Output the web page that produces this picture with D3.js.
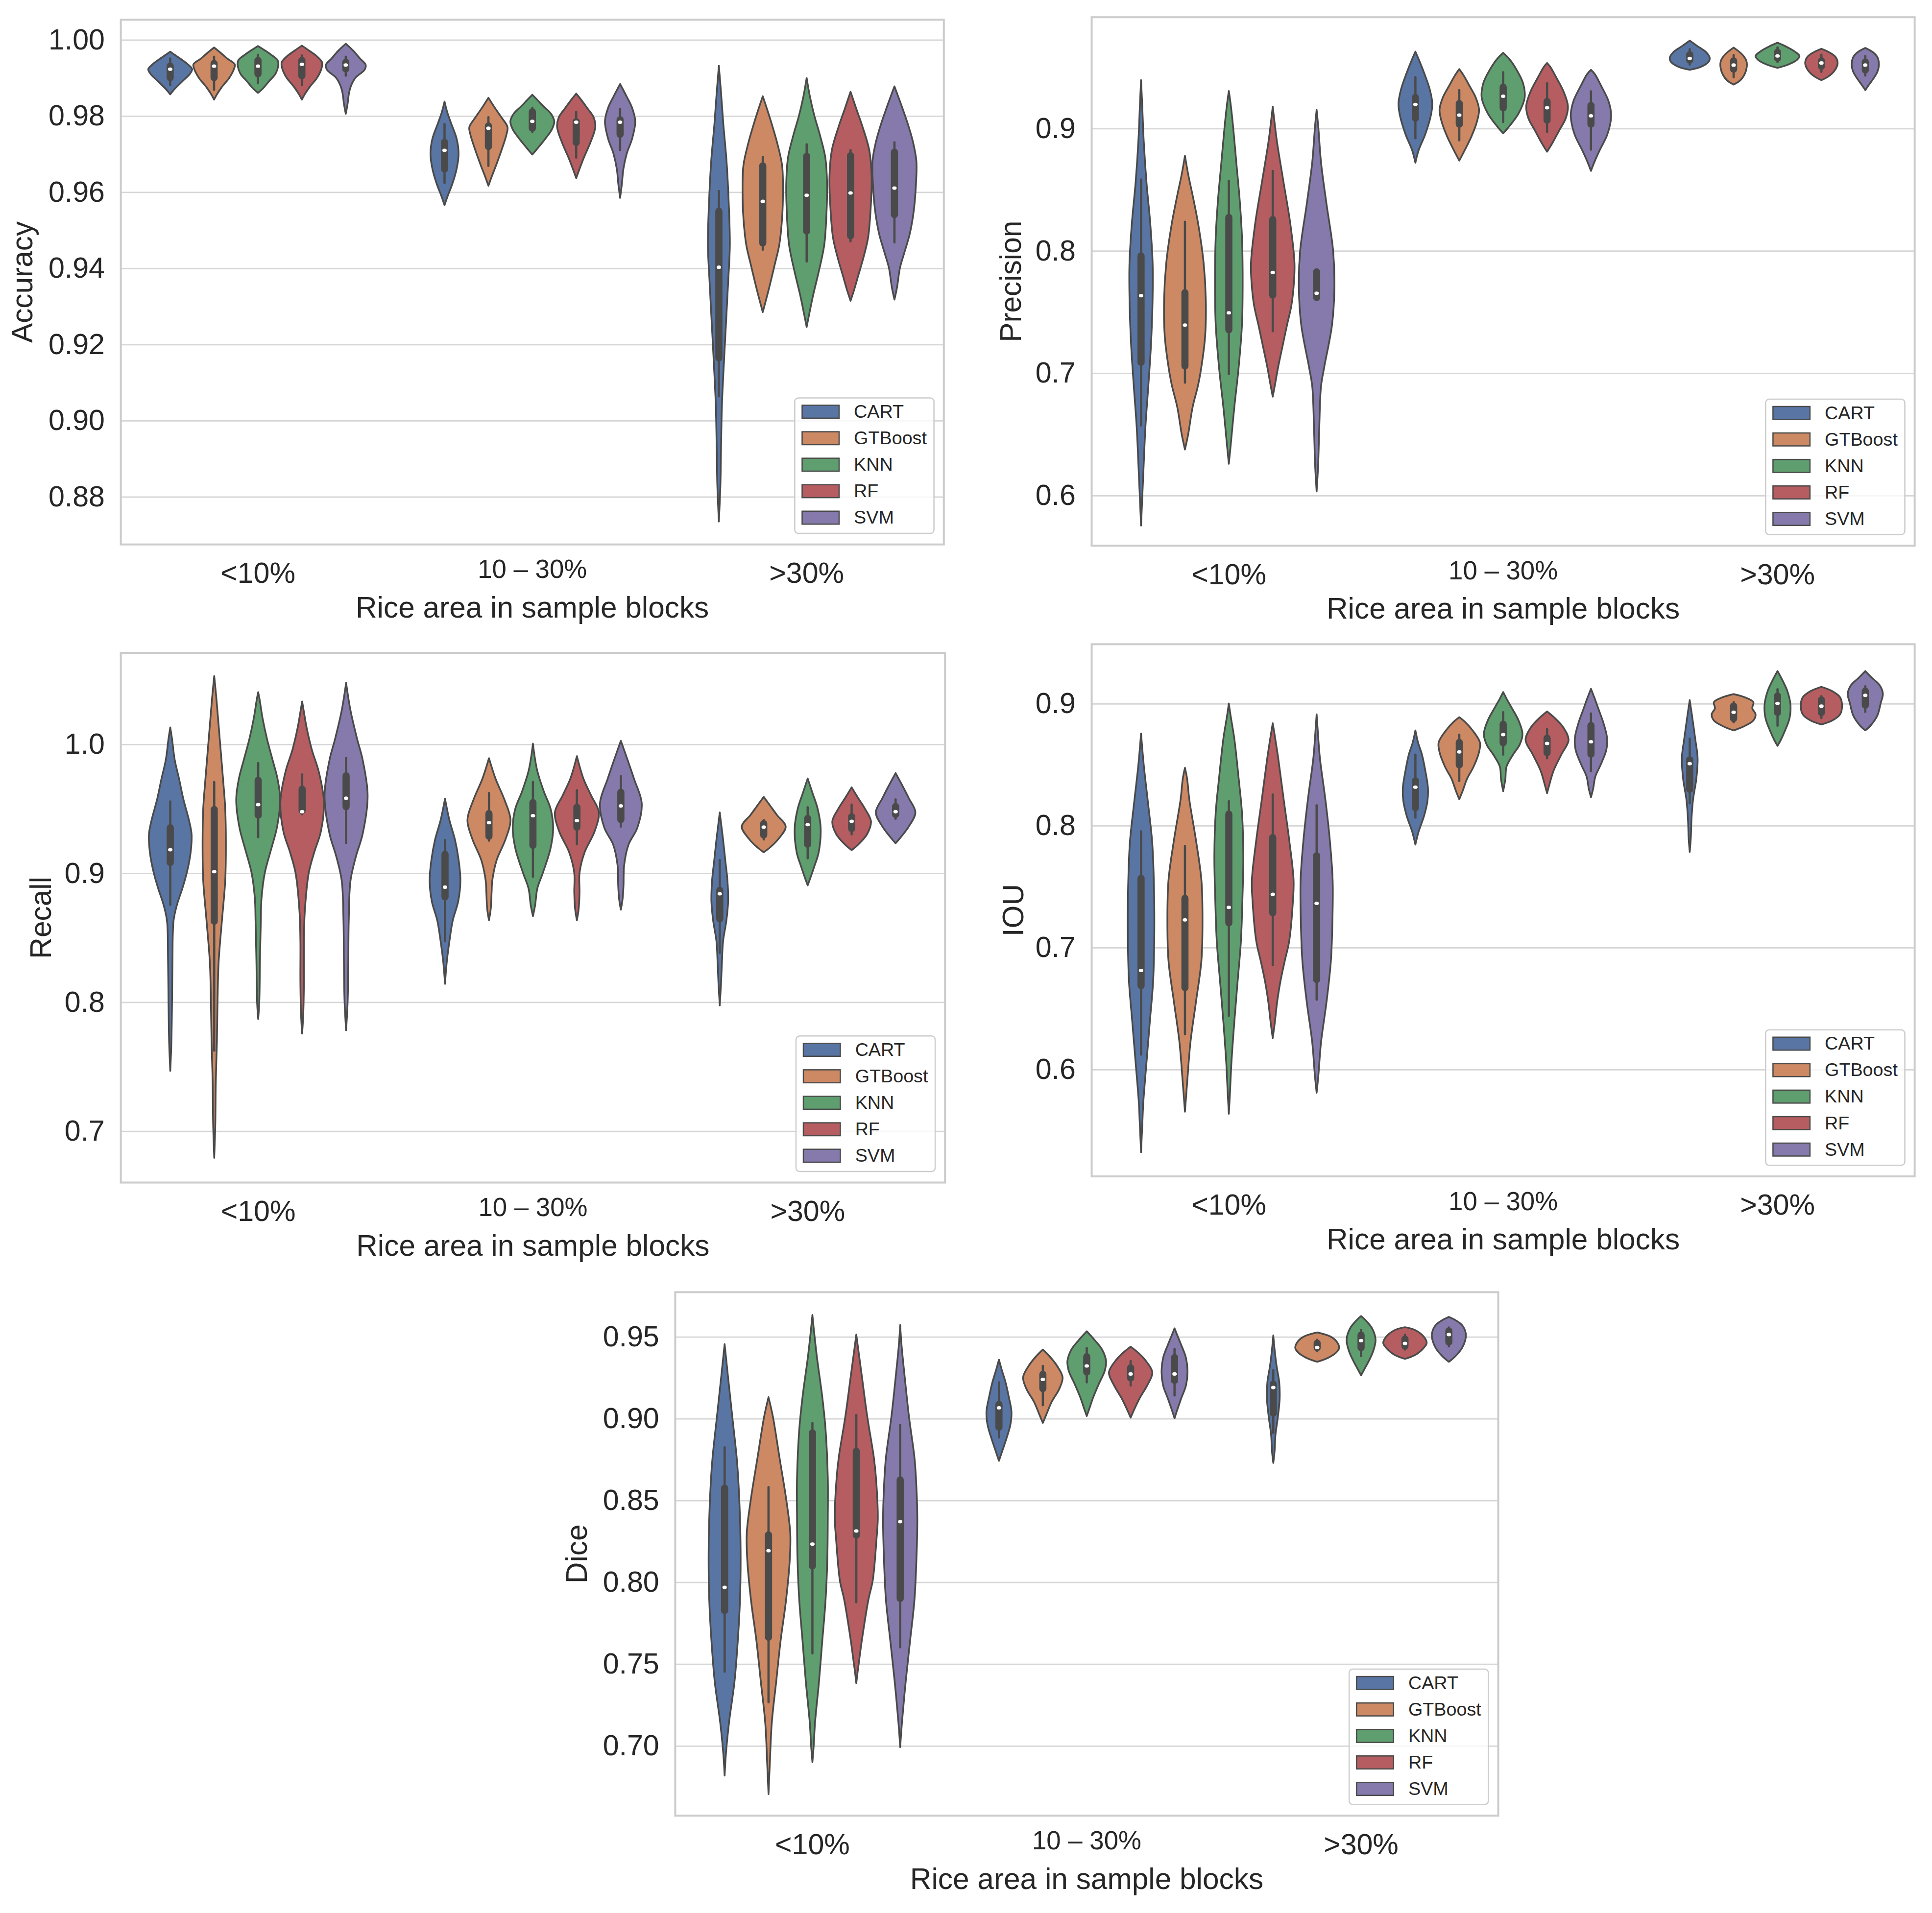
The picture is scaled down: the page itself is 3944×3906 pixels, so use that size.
<!DOCTYPE html>
<meta charset="utf-8">
<head>
  <script src="https://d3js.org/d3.v7.min.js"></script>
  <style>
    body { margin: 0; background: #fff; }
    text { font-family: "Liberation Sans", Arial, sans-serif; fill: #262626; }
  </style>
</head>
<body>
<svg id="root"></svg>
<script>
// ---- data ----
const methods = ["CART", "GTBoost", "KNN", "RF", "SVM"];
const groups = ["<10%", "10 – 30%", ">30%"];
const colors = ["#5875a4", "#cc8963", "#5f9e6e", "#b55d60", "#857aab"];

const accTicks = [0.88, 0.90, 0.92, 0.94, 0.96, 0.98, 1.00];
const precTicks = [0.6, 0.7, 0.8, 0.9];
const recTicks = [0.7, 0.8, 0.9, 1.0];
const iouTicks = [0.6, 0.7, 0.8, 0.9];
const diceTicks = [0.70, 0.75, 0.80, 0.85, 0.90, 0.95];

// density outline: [value, relative half width], box: [whisker low, q1, median, q3, whisker high]
const accShape = [
  [
    [[0.9856,0],[0.9870,0.2],[0.9890,0.55],[0.9910,0.9],[0.9922,1.0],[0.9935,0.8],[0.9950,0.45],[0.9960,0.2],[0.9968,0]],
    [[0.9842,0],[0.9855,0.12],[0.9875,0.35],[0.9900,0.7],[0.9925,0.92],[0.9935,0.94],[0.9950,0.6],[0.9965,0.3],[0.9979,0]],
    [[0.9860,0],[0.9870,0.2],[0.9890,0.5],[0.9910,0.8],[0.9930,0.92],[0.9945,0.9],[0.9960,0.6],[0.9972,0.3],[0.9983,0]],
    [[0.9842,0],[0.9855,0.12],[0.9875,0.35],[0.9900,0.7],[0.9925,0.9],[0.9940,0.92],[0.9955,0.7],[0.9970,0.35],[0.9984,0]],
    [[0.9805,0],[0.9830,0.08],[0.9860,0.15],[0.9880,0.25],[0.9900,0.45],[0.9920,0.85],[0.9933,0.91],[0.9950,0.65],[0.9970,0.35],[0.9989,0]]
  ],
  [
    [[0.9565,0],[0.9590,0.15],[0.9620,0.35],[0.9660,0.55],[0.9700,0.64],[0.9740,0.55],[0.9780,0.3],[0.9810,0.12],[0.9837,0]],
    [[0.9616,0],[0.9640,0.15],[0.9670,0.35],[0.9710,0.6],[0.9750,0.82],[0.9770,0.87],[0.9795,0.6],[0.9820,0.3],[0.9847,0]],
    [[0.9698,0],[0.9715,0.25],[0.9740,0.6],[0.9765,0.9],[0.9785,1.0],[0.9805,0.85],[0.9825,0.5],[0.9840,0.25],[0.9855,0]],
    [[0.9636,0],[0.9660,0.15],[0.9690,0.35],[0.9730,0.65],[0.9770,0.87],[0.9795,0.8],[0.9820,0.5],[0.9840,0.25],[0.9858,0]],
    [[0.9584,0],[0.9620,0.08],[0.9660,0.15],[0.9700,0.3],[0.9740,0.55],[0.9785,0.69],[0.9820,0.55],[0.9850,0.3],[0.9883,0]]
  ],
  [
    [[0.8734,0],[0.8830,0.07],[0.8930,0.1],[0.9040,0.14],[0.9140,0.22],[0.9250,0.32],[0.9360,0.42],[0.9460,0.5],[0.9570,0.45],[0.9680,0.35],[0.9780,0.2],[0.9860,0.1],[0.9931,0]],
    [[0.9284,0],[0.9310,0.12],[0.9350,0.3],[0.9410,0.55],[0.9460,0.75],[0.9530,0.88],[0.9600,0.92],[0.9670,0.88],[0.9730,0.65],[0.9780,0.4],[0.9820,0.18],[0.9851,0]],
    [[0.9245,0],[0.9280,0.12],[0.9330,0.3],[0.9390,0.55],[0.9460,0.8],[0.9540,0.9],[0.9620,0.93],[0.9690,0.85],[0.9750,0.6],[0.9800,0.35],[0.9850,0.15],[0.9899,0]],
    [[0.9314,0],[0.9340,0.15],[0.9380,0.35],[0.9430,0.6],[0.9480,0.8],[0.9560,0.92],[0.9640,0.96],[0.9710,0.85],[0.9770,0.55],[0.9820,0.25],[0.9863,0]],
    [[0.9317,0],[0.9350,0.12],[0.9400,0.25],[0.9440,0.45],[0.9490,0.7],[0.9550,0.88],[0.9620,0.98],[0.9680,1.0],[0.9730,0.85],[0.9780,0.6],[0.9830,0.3],[0.9877,0]]
  ]
];
const accBox = [
  [[0.9880,0.9895,0.9922,0.9935,0.9950],[0.9868,0.9895,0.9930,0.9942,0.9955],[0.9885,0.9905,0.9930,0.9950,0.9960],[0.9880,0.9900,0.9935,0.9950,0.9958],[0.9905,0.9918,0.9933,0.9945,0.9955]],
  [[0.9623,0.9655,0.9709,0.9735,0.9778],[0.9668,0.9714,0.9767,0.9778,0.9796],[0.9757,0.9762,0.9785,0.9815,0.9820],[0.9690,0.9725,0.9783,0.9789,0.9810],[0.9710,0.9746,0.9783,0.9794,0.9818]],
  [[0.9063,0.9159,0.9402,0.9554,0.9602],[0.9448,0.9461,0.9575,0.9673,0.9692],[0.9417,0.9492,0.9591,0.9698,0.9725],[0.9470,0.9480,0.9597,0.9700,0.9710],[0.9467,0.9535,0.9610,0.9709,0.9730]]
];

const precShape = [
  [
    [[0.5751,0],[0.600,0.06],[0.625,0.12],[0.656,0.2],[0.689,0.33],[0.722,0.45],[0.755,0.52],[0.788,0.53],[0.822,0.42],[0.855,0.25],[0.890,0.12],[0.920,0.05],[0.9392,0]],
    [[0.6373,0],[0.650,0.15],[0.672,0.35],[0.690,0.6],[0.705,0.75],[0.730,0.92],[0.760,0.95],[0.790,0.85],[0.822,0.6],[0.845,0.35],[0.862,0.15],[0.8774,0]],
    [[0.6256,0],[0.640,0.08],[0.672,0.25],[0.705,0.45],[0.740,0.6],[0.775,0.63],[0.810,0.6],[0.840,0.5],[0.870,0.35],[0.900,0.2],[0.920,0.08],[0.9303,0]],
    [[0.6805,0],[0.690,0.1],[0.705,0.25],[0.722,0.45],[0.739,0.65],[0.755,0.85],[0.775,0.97],[0.790,0.99],[0.822,0.8],[0.855,0.5],[0.888,0.2],[0.905,0.08],[0.9176,0]],
    [[0.603,0],[0.625,0.07],[0.655,0.12],[0.689,0.2],[0.705,0.35],[0.739,0.7],[0.770,0.81],[0.800,0.75],[0.838,0.45],[0.872,0.2],[0.900,0.08],[0.915,0]]
  ],
  [
    [[0.8717,0],[0.882,0.15],[0.895,0.45],[0.910,0.7],[0.920,0.77],[0.932,0.65],[0.945,0.4],[0.955,0.18],[0.9625,0]],
    [[0.8734,0],[0.882,0.25],[0.893,0.55],[0.905,0.8],[0.915,0.9],[0.925,0.75],[0.935,0.45],[0.943,0.2],[0.9482,0]],
    [[0.8957,0],[0.902,0.3],[0.912,0.7],[0.925,0.98],[0.937,0.9],[0.948,0.6],[0.956,0.3],[0.9615,0]],
    [[0.8807,0],[0.888,0.25],[0.898,0.55],[0.908,0.85],[0.918,0.95],[0.930,0.75],[0.942,0.4],[0.950,0.15],[0.9532,0]],
    [[0.865,0],[0.872,0.15],[0.882,0.4],[0.895,0.75],[0.910,0.92],[0.922,0.8],[0.935,0.45],[0.944,0.18],[0.9476,0]]
  ],
  [
    [[0.9476,0],[0.950,0.5],[0.954,0.85],[0.9575,0.91],[0.962,0.75],[0.967,0.35],[0.9715,0]],
    [[0.9356,0],[0.939,0.3],[0.944,0.5],[0.950,0.6],[0.955,0.58],[0.960,0.4],[0.9658,0]],
    [[0.9492,0],[0.952,0.5],[0.956,0.9],[0.959,1.0],[0.963,0.75],[0.967,0.35],[0.9698,0]],
    [[0.9392,0],[0.942,0.3],[0.947,0.6],[0.953,0.74],[0.958,0.65],[0.962,0.35],[0.9648,0]],
    [[0.931,0],[0.935,0.15],[0.940,0.35],[0.946,0.55],[0.952,0.62],[0.958,0.55],[0.962,0.35],[0.9655,0]]
  ]
];
const precBox = [
  [[0.657,0.707,0.763,0.797,0.858],[0.692,0.704,0.739,0.767,0.8235],[0.699,0.7337,0.749,0.8285,0.857],[0.734,0.762,0.782,0.8268,0.865],[0.760,0.760,0.765,0.784,0.784]],
  [[0.8917,0.9066,0.9193,0.9266,0.9416],[0.890,0.9017,0.9106,0.9216,0.931],[0.905,0.915,0.926,0.935,0.9456],[0.8967,0.905,0.9166,0.9233,0.9366],[0.8824,0.9017,0.910,0.920,0.930]],
  [[0.952,0.954,0.957,0.9615,0.9645],[0.9416,0.9466,0.9515,0.9565,0.9598],[0.954,0.9555,0.959,0.9635,0.966],[0.946,0.949,0.9532,0.9565,0.960],[0.943,0.946,0.9515,0.9555,0.959]]
];

const recShape = [
  [
    [[0.7465,0],[0.768,0.05],[0.800,0.08],[0.831,0.1],[0.863,0.15],[0.875,0.3],[0.888,0.55],[0.900,0.75],[0.915,0.92],[0.930,0.97],[0.941,0.85],[0.957,0.6],[0.973,0.4],[0.988,0.2],[1.004,0.08],[1.0129,0]],
    [[0.679,0],[0.706,0.05],[0.737,0.07],[0.768,0.12],[0.800,0.15],[0.831,0.2],[0.863,0.35],[0.894,0.5],[0.920,0.53],[0.950,0.5],[0.973,0.4],[1.004,0.25],[1.035,0.1],[1.0528,0]],
    [[0.7867,0],[0.800,0.05],[0.831,0.08],[0.863,0.12],[0.880,0.15],[0.900,0.3],[0.919,0.6],[0.935,0.85],[0.957,1.0],[0.973,0.88],[0.988,0.65],[1.004,0.4],[1.020,0.2],[1.035,0.06],[1.0402,0]],
    [[0.7754,0],[0.790,0.05],[0.815,0.08],[0.847,0.08],[0.870,0.12],[0.900,0.3],[0.916,0.55],[0.932,0.85],[0.955,0.99],[0.979,0.75],[0.995,0.45],[1.013,0.2],[1.028,0.05],[1.033,0]],
    [[0.778,0],[0.800,0.07],[0.831,0.1],[0.863,0.12],[0.894,0.2],[0.913,0.45],[0.930,0.75],[0.960,0.98],[0.988,0.75],[1.004,0.5],[1.026,0.2],[1.0474,0]]
  ],
  [
    [[0.814,0],[0.831,0.08],[0.847,0.2],[0.863,0.35],[0.878,0.6],[0.894,0.7],[0.910,0.62],[0.926,0.45],[0.941,0.2],[0.9576,0]],
    [[0.8633,0],[0.872,0.08],[0.885,0.12],[0.894,0.15],[0.910,0.35],[0.926,0.75],[0.941,0.98],[0.957,0.7],[0.973,0.3],[0.989,0]],
    [[0.8665,0],[0.875,0.1],[0.888,0.2],[0.900,0.45],[0.919,0.8],[0.935,0.92],[0.950,0.8],[0.963,0.5],[0.979,0.2],[0.990,0.08],[1.0003,0]],
    [[0.8633,0],[0.872,0.08],[0.885,0.12],[0.900,0.12],[0.916,0.35],[0.932,0.8],[0.947,1.0],[0.960,0.65],[0.973,0.3],[0.9906,0]],
    [[0.8715,0],[0.880,0.08],[0.890,0.12],[0.906,0.15],[0.922,0.35],[0.935,0.75],[0.954,0.95],[0.973,0.6],[0.988,0.3],[1.0025,0]]
  ],
  [
    [[0.7973,0],[0.815,0.06],[0.831,0.1],[0.847,0.15],[0.863,0.3],[0.878,0.38],[0.894,0.35],[0.910,0.25],[0.926,0.15],[0.940,0.05],[0.947,0]],
    [[0.916,0],[0.920,0.3],[0.926,0.65],[0.936,1.0],[0.945,0.6],[0.952,0.3],[0.959,0]],
    [[0.8904,0],[0.896,0.12],[0.905,0.3],[0.916,0.5],[0.935,0.59],[0.950,0.45],[0.962,0.22],[0.9733,0]],
    [[0.9177,0],[0.922,0.3],[0.930,0.7],[0.940,0.88],[0.950,0.6],[0.958,0.3],[0.9664,0]],
    [[0.923,0],[0.928,0.25],[0.936,0.6],[0.947,0.9],[0.958,0.6],[0.968,0.3],[0.9774,0]]
  ]
];
const recBox = [
  [[0.8753,0.9067,0.918,0.9365,0.9554],[0.7622,0.8611,0.901,0.9507,0.9705],[0.9277,0.9434,0.953,0.9733,0.9852],[0.9455,0.947,0.9475,0.9664,0.9764],[0.9233,0.950,0.958,0.9768,0.989]],
  [[0.847,0.880,0.889,0.916,0.9255],[0.925,0.927,0.939,0.9475,0.962],[0.897,0.920,0.9444,0.956,0.9705],[0.9224,0.934,0.9406,0.9523,0.9642],[0.936,0.940,0.952,0.964,0.975]],
  [[0.838,0.863,0.8838,0.888,0.910],[0.926,0.928,0.9356,0.9397,0.941],[0.9114,0.9208,0.9375,0.9437,0.951],[0.930,0.933,0.940,0.945,0.953],[0.942,0.944,0.9475,0.953,0.957]]
];

const iouShape = [
  [
    [[0.5319,0],[0.556,0.06],[0.572,0.1],[0.606,0.25],[0.639,0.4],[0.672,0.55],[0.705,0.6],[0.738,0.6],[0.772,0.55],[0.788,0.5],[0.821,0.3],[0.850,0.12],[0.8754,0]],
    [[0.5651,0],[0.589,0.1],[0.622,0.25],[0.655,0.5],[0.689,0.75],[0.722,0.8],[0.755,0.75],[0.788,0.5],[0.821,0.2],[0.838,0.1],[0.8472,0]],
    [[0.5634,0],[0.580,0.05],[0.606,0.12],[0.639,0.25],[0.672,0.4],[0.705,0.55],[0.740,0.62],[0.775,0.66],[0.810,0.6],[0.838,0.45],[0.871,0.25],[0.890,0.08],[0.900,0]],
    [[0.6255,0],[0.639,0.1],[0.655,0.2],[0.672,0.35],[0.689,0.55],[0.705,0.75],[0.738,0.92],[0.755,0.95],[0.788,0.75],[0.821,0.5],[0.855,0.25],[0.875,0.08],[0.8837,0]],
    [[0.5807,0],[0.595,0.08],[0.622,0.2],[0.655,0.45],[0.689,0.65],[0.722,0.72],[0.755,0.73],[0.788,0.6],[0.821,0.4],[0.855,0.15],[0.878,0.05],[0.891,0]]
  ],
  [
    [[0.7842,0],[0.795,0.15],[0.808,0.4],[0.820,0.55],[0.831,0.57],[0.845,0.45],[0.858,0.3],[0.868,0.12],[0.8778,0]],
    [[0.8213,0],[0.828,0.15],[0.838,0.35],[0.848,0.65],[0.860,0.9],[0.868,0.94],[0.878,0.6],[0.885,0.25],[0.8887,0]],
    [[0.828,0],[0.838,0.1],[0.848,0.15],[0.858,0.45],[0.866,0.75],[0.875,0.88],[0.886,0.7],[0.896,0.4],[0.904,0.15],[0.9093,0]],
    [[0.8263,0],[0.833,0.1],[0.845,0.3],[0.858,0.65],[0.870,0.98],[0.880,0.75],[0.888,0.35],[0.8934,0]],
    [[0.823,0],[0.830,0.1],[0.840,0.2],[0.850,0.45],[0.862,0.7],[0.872,0.73],[0.885,0.55],[0.895,0.35],[0.905,0.15],[0.912,0]]
  ],
  [
    [[0.7782,0],[0.790,0.05],[0.805,0.08],[0.821,0.15],[0.838,0.3],[0.855,0.36],[0.871,0.25],[0.888,0.12],[0.9027,0]],
    [[0.8778,0],[0.881,0.45],[0.886,0.9],[0.891,1.0],[0.896,0.85],[0.901,0.9],[0.905,0.5],[0.9076,0]],
    [[0.8652,0],[0.870,0.15],[0.878,0.35],[0.888,0.55],[0.899,0.59],[0.910,0.45],[0.918,0.25],[0.9265,0]],
    [[0.8827,0],[0.886,0.5],[0.891,0.85],[0.898,0.94],[0.905,0.85],[0.910,0.5],[0.9136,0]],
    [[0.8778,0],[0.882,0.25],[0.890,0.55],[0.900,0.7],[0.908,0.8],[0.915,0.65],[0.921,0.3],[0.9265,0]]
  ]
];
const iouBox = [
  [[0.612,0.667,0.681,0.758,0.795],[0.6288,0.6654,0.7224,0.7417,0.783],[0.6438,0.7185,0.7327,0.8107,0.8197],[0.6853,0.7267,0.7434,0.7915,0.8253],[0.657,0.672,0.736,0.7765,0.8164]],
  [[0.8064,0.813,0.8313,0.838,0.858],[0.8363,0.848,0.8602,0.8695,0.8744],[0.858,0.8661,0.8744,0.8844,0.8927],[0.855,0.858,0.8671,0.873,0.879],[0.8446,0.8568,0.8685,0.8834,0.8917]],
  [[0.818,0.828,0.8506,0.8552,0.8711],[0.8845,0.886,0.8927,0.8993,0.901],[0.8817,0.891,0.900,0.9076,0.9116],[0.888,0.891,0.8977,0.9043,0.906],[0.893,0.897,0.9066,0.9116,0.914]]
];

const diceShape = [
  [
    [[0.6816,0],[0.695,0.06],[0.714,0.2],[0.739,0.45],[0.764,0.6],[0.789,0.7],[0.814,0.73],[0.839,0.7],[0.863,0.62],[0.876,0.55],[0.901,0.35],[0.926,0.15],[0.9453,0]],
    [[0.6703,0],[0.689,0.06],[0.714,0.15],[0.739,0.35],[0.764,0.55],[0.789,0.8],[0.814,0.97],[0.830,0.99],[0.851,0.8],[0.876,0.5],[0.901,0.2],[0.9129,0]],
    [[0.6898,0],[0.700,0.06],[0.714,0.12],[0.739,0.3],[0.764,0.45],[0.789,0.6],[0.814,0.68],[0.839,0.7],[0.864,0.7],[0.893,0.6],[0.913,0.45],[0.938,0.2],[0.955,0.06],[0.9632,0]],
    [[0.7381,0],[0.745,0.06],[0.751,0.12],[0.764,0.25],[0.789,0.55],[0.801,0.75],[0.826,0.92],[0.839,0.98],[0.863,0.9],[0.876,0.8],[0.901,0.5],[0.926,0.25],[0.945,0.06],[0.9512,0]],
    [[0.699,0],[0.714,0.08],[0.739,0.25],[0.764,0.45],[0.789,0.65],[0.814,0.74],[0.839,0.78],[0.863,0.72],[0.876,0.65],[0.901,0.4],[0.926,0.2],[0.945,0.06],[0.957,0]]
  ],
  [
    [[0.874,0],[0.880,0.15],[0.888,0.35],[0.896,0.52],[0.904,0.57],[0.913,0.45],[0.922,0.3],[0.930,0.12],[0.9358,0]],
    [[0.8972,0],[0.902,0.15],[0.910,0.4],[0.918,0.75],[0.925,0.9],[0.932,0.65],[0.938,0.3],[0.942,0]],
    [[0.9014,0],[0.906,0.12],[0.913,0.3],[0.921,0.55],[0.929,0.82],[0.935,0.88],[0.942,0.7],[0.948,0.35],[0.9532,0]],
    [[0.9004,0],[0.905,0.15],[0.912,0.4],[0.920,0.75],[0.928,0.99],[0.935,0.7],[0.940,0.35],[0.9438,0]],
    [[0.900,0],[0.905,0.12],[0.912,0.3],[0.920,0.52],[0.928,0.59],[0.937,0.52],[0.945,0.3],[0.951,0.12],[0.955,0]]
  ],
  [
    [[0.8727,0],[0.880,0.06],[0.890,0.1],[0.900,0.2],[0.912,0.29],[0.922,0.27],[0.932,0.15],[0.942,0.06],[0.9507,0]],
    [[0.9345,0],[0.937,0.5],[0.940,0.85],[0.943,1.0],[0.947,0.88],[0.950,0.6],[0.9525,0]],
    [[0.9263,0],[0.930,0.15],[0.935,0.35],[0.941,0.55],[0.948,0.66],[0.955,0.5],[0.960,0.2],[0.9625,0]],
    [[0.9363,0],[0.939,0.5],[0.943,0.85],[0.946,0.99],[0.950,0.85],[0.954,0.45],[0.9557,0]],
    [[0.9345,0],[0.938,0.3],[0.943,0.6],[0.948,0.75],[0.952,0.77],[0.957,0.6],[0.960,0.3],[0.962,0]]
  ]
];
const diceBox = [
  [[0.7451,0.7813,0.7967,0.8585,0.8822],[0.7264,0.765,0.8191,0.8299,0.858],[0.7563,0.8087,0.8231,0.8922,0.8972],[0.7875,0.8274,0.8311,0.881,0.9021],[0.760,0.7887,0.8368,0.8635,0.8959]],
  [[0.8884,0.8934,0.9064,0.9096,0.922],[0.908,0.917,0.9238,0.928,0.932],[0.922,0.9271,0.932,0.9388,0.943],[0.920,0.9235,0.9271,0.932,0.935],[0.914,0.922,0.9271,0.9383,0.9425]],
  [[0.891,0.902,0.9188,0.922,0.9295],[0.941,0.942,0.9433,0.947,0.948],[0.938,0.942,0.9475,0.952,0.954],[0.942,0.943,0.9458,0.9495,0.951],[0.944,0.9455,0.9512,0.9545,0.9555]]
];

// ---- layout (drawn in a 1568 x 1553 frame, scaled to the page) ----
const W = 1568, H = 1553;
const svg = d3.select("#root")
  .attr("width", 3944).attr("height", 3906)
  .attr("viewBox", `0 0 ${W} ${H}`);

const panels = [
  { label: "Accuracy", shape: accShape, box: accBox, ticks: accTicks, fmt: ".2f", x: 98, y: 16, w: 668, h: 426, dom: [0.8674, 1.0052], lab: 80 },
  { label: "Precision", shape: precShape, box: precBox, ticks: precTicks, fmt: ".1f", x: 886, y: 14, w: 668, h: 429, dom: [0.5587, 0.9906], lab: 66 },
  { label: "Recall", shape: recShape, box: recBox, ticks: recTicks, fmt: ".1f", x: 98, y: 530, w: 669, h: 430, dom: [0.6599, 1.0707], lab: 65 },
  { label: "IOU", shape: iouShape, box: iouBox, ticks: iouTicks, fmt: ".1f", x: 886, y: 523, w: 668, h: 432, dom: [0.5121, 0.9485], lab: 64 },
  { label: "Dice", shape: diceShape, box: diceBox, ticks: diceTicks, fmt: ".2f", x: 548, y: 1049, w: 668, h: 425, dom: [0.6571, 0.9771], lab: 80 }
];

const edge = "#4a4a4a";

panels.forEach(p => {
  const g = svg.append("g").attr("transform", `translate(${p.x},${p.y})`);
  const y = d3.scaleLinear(p.dom, [p.h, 0]);
  const x = d3.scaleBand(groups, [0, p.w]);
  const hue = d3.scaleBand(methods, [x.bandwidth() * 0.1, x.bandwidth() * 0.9]);
  const hs = hue.bandwidth() / 2;

  // grid
  g.append("g")
    .call(d3.axisLeft(y).tickValues(p.ticks).tickSize(-p.w).tickFormat(""))
    .call(a => a.select(".domain").remove())
    .call(a => a.selectAll("line").attr("stroke", "#d6d6d6").attr("stroke-width", 1.1));

  // violins
  groups.forEach((grp, gi) => {
    methods.forEach((m, mi) => {
      const cx = x(grp) + hue(m) + hs;
      const area = d3.area()
        .y(d => y(d[0]))
        .x0(d => cx - d[1] * hs)
        .x1(d => cx + d[1] * hs)
        .curve(d3.curveCatmullRom.alpha(0.5));
      g.append("path")
        .datum(p.shape[gi][mi])
        .attr("d", area)
        .attr("fill", colors[mi])
        .attr("stroke", edge)
        .attr("stroke-width", 1.4)
        .attr("stroke-linejoin", "round");

      const b = p.box[gi][mi];
      g.append("line")
        .attr("x1", cx).attr("x2", cx)
        .attr("y1", y(b[0])).attr("y2", y(b[4]))
        .attr("stroke", edge).attr("stroke-width", 1.8)
        .attr("stroke-linecap", "round");
      g.append("line")
        .attr("x1", cx).attr("x2", cx)
        .attr("y1", y(b[1]) - 1.5).attr("y2", Math.min(y(b[3]) + 1.5, y(b[1]) - 1.5))
        .attr("stroke", edge).attr("stroke-width", 5.8)
        .attr("stroke-linecap", "round");
      g.append("ellipse")
        .attr("cx", cx).attr("cy", y(b[2])).attr("rx", 1.8).attr("ry", 1.4)
        .attr("fill", "#ffffff");
    });
  });

  // frame
  g.append("rect")
    .attr("width", p.w).attr("height", p.h)
    .attr("fill", "none").attr("stroke", "#cccccc").attr("stroke-width", 1.6);

  // y tick labels
  g.append("g")
    .call(d3.axisLeft(y).tickValues(p.ticks).tickSize(0).tickPadding(13).tickFormat(d3.format(p.fmt)))
    .call(a => a.select(".domain").remove())
    .call(a => a.selectAll("text").style("font-size", "23.5px").attr("fill", "#262626"));

  // x tick labels
  g.append("g")
    .attr("transform", `translate(0,${p.h})`)
    .call(d3.axisBottom(x).tickSize(0).tickPadding(0))
    .call(a => a.select(".domain").remove())
    .call(a => a.selectAll("text")
      .attr("dy", null)
      .attr("dominant-baseline", "central")
      .attr("y", d => d === groups[1] ? 20 : 23)
      .style("font-size", d => d === groups[1] ? "21px" : "23.5px")
      .attr("fill", "#262626"));

  // axis labels
  g.append("text")
    .attr("x", p.w / 2).attr("y", p.h + 51)
    .attr("text-anchor", "middle").attr("dominant-baseline", "central")
    .style("font-size", "24px")
    .text("Rice area in sample blocks");
  g.append("text")
    .attr("transform", `translate(${-p.lab},${p.h / 2}) rotate(-90)`)
    .attr("text-anchor", "middle").attr("dominant-baseline", "central")
    .style("font-size", "24px")
    .text(p.label);

  // legend
  const lw = 113, lh = 110;
  const lg = g.append("g").attr("transform", `translate(${p.w - 8 - lw},${p.h - 9 - lh})`);
  lg.append("rect")
    .attr("width", lw).attr("height", lh).attr("rx", 3)
    .attr("fill", "#ffffff").attr("fill-opacity", 0.8)
    .attr("stroke", "#cccccc").attr("stroke-width", 1);
  methods.forEach((m, i) => {
    const ly = 11 + i * 21.5;
    lg.append("rect")
      .attr("x", 6).attr("y", ly - 5).attr("width", 30).attr("height", 10.5)
      .attr("fill", colors[i]).attr("stroke", edge).attr("stroke-width", 1);
    lg.append("text")
      .attr("x", 48).attr("y", ly)
      .attr("dominant-baseline", "central")
      .style("font-size", "15px")
      .text(m);
  });
});
</script>
</body>
